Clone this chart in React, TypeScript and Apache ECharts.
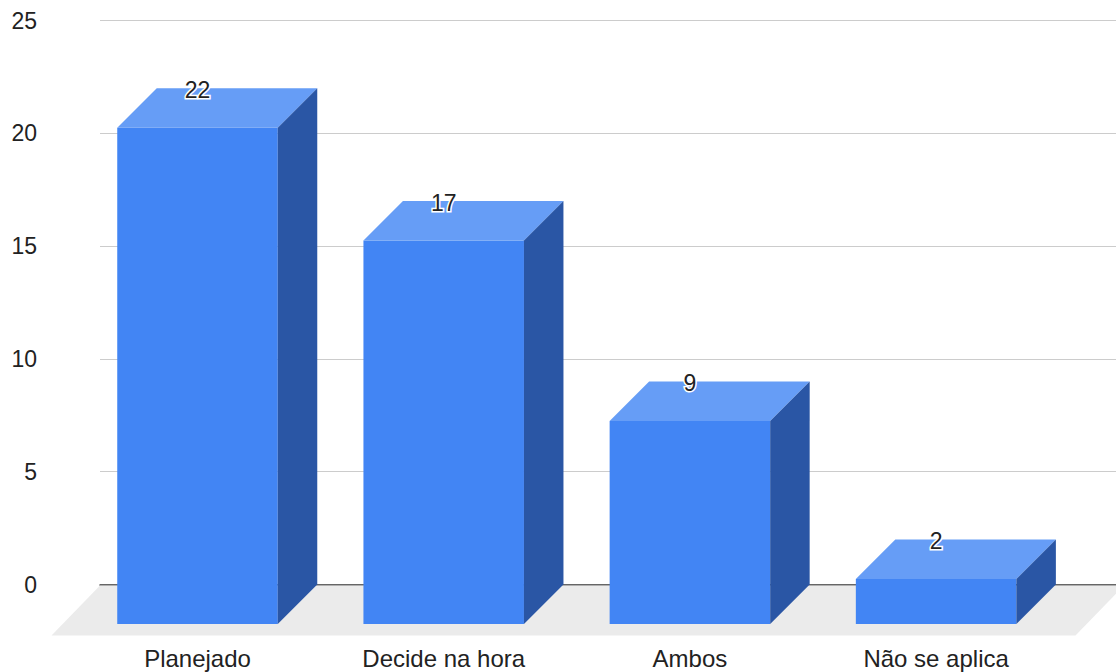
import React, { useEffect, useRef } from "react";
import * as echarts from "echarts";

const categories = ["Planejado", "Decide na hora", "Ambos", "Não se aplica"];
const values = [22, 17, 9, 2];
const yTicks = { min: 0, max: 25, interval: 5 };

const FONT = "'Liberation Sans', Arial, sans-serif";
const DEPTH = 39.5;

export default function App() {
  const ref = useRef<HTMLDivElement>(null);
  useEffect(() => {
    if (!ref.current) return;
    const chart = echarts.init(ref.current, undefined, { renderer: "svg" });
    const option: any = {
      animation: false,
      backgroundColor: "#ffffff",
      grid: [
        { left: 100, right: 0, top: 20.5, bottom: 87.5 },
        { left: 74.4, right: 56.8, top: 20.5, bottom: 87.5 },
      ],
      xAxis: [
        {
          type: "value",
          gridIndex: 0,
          min: 0,
          max: 1,
          axisLine: { show: true, onZero: false, lineStyle: { color: "#444", width: 1.5 } },
          axisTick: { show: false },
          axisLabel: { show: false },
          splitLine: { show: false },
        },
        {
          type: "category",
          gridIndex: 1,
          data: categories,
          axisLine: { show: false },
          axisTick: { show: false },
          axisLabel: {
            fontSize: 24,
            color: "#222",
            fontFamily: FONT,
            margin: 62,
            interval: 0,
          },
        },
      ],
      yAxis: [
        {
          type: "value",
          gridIndex: 0,
          min: yTicks.min,
          max: yTicks.max,
          interval: yTicks.interval,
          axisLine: { show: false },
          axisTick: { show: false },
          axisLabel: { fontSize: 23, color: "#222", fontFamily: FONT, margin: 63 },
          splitLine: { lineStyle: { color: "#cccccc", width: 1 } },
        },
        {
          type: "value",
          gridIndex: 1,
          min: yTicks.min,
          max: yTicks.max,
          interval: yTicks.interval,
          show: false,
        },
      ],
      series: [
        {
          type: "custom",
          xAxisIndex: 0,
          yAxisIndex: 0,
          silent: true,
          z: 1,
          data: [[0, 0]],
          renderItem: (params: any, api: any) => {
            const cs = params.coordSys;
            const by = api.coord([0, 0])[1] + 1;
            const fy = by + 50;
            const dx = 48.5;
            const xr = cs.x + cs.width + 8;
            return {
              type: "polygon",
              shape: {
                points: [
                  [cs.x, by],
                  [xr, by],
                  [xr - dx, fy],
                  [cs.x - dx, fy],
                ],
              },
              style: { fill: "#ebebeb" },
            };
          },
        },
        {
          type: "custom",
          xAxisIndex: 1,
          yAxisIndex: 1,
          z: 3,
          data: values.map((v, i) => [i, v]),
          encode: { x: 0, y: 1 },
          renderItem: (params: any, api: any) => {
            const i = api.value(0);
            const v = api.value(1);
            const top = api.coord([i, v]);
            const base = api.coord([i, 0]);
            const bw = api.size([1, 0])[0] * 0.652;
            const d = DEPTH;
            const xl = top[0] - bw / 2;
            const xr = top[0] + bw / 2;
            const fy = top[1] + d;
            const fb = base[1] + d;
            return {
              type: "group",
              children: [
                {
                  type: "polygon",
                  shape: { points: [[xl, fy], [xr, fy], [xr, fb], [xl, fb]] },
                  style: { fill: "#4285f4" },
                },
                {
                  type: "polygon",
                  shape: { points: [[xl, fy], [xl + d, top[1]], [xr + d, top[1]], [xr, fy]] },
                  style: { fill: "#669df6" },
                },
                {
                  type: "polygon",
                  shape: { points: [[xr, fy], [xr + d, top[1]], [xr + d, base[1]], [xr, fb]] },
                  style: { fill: "#2a56a5" },
                },
                {
                  type: "text",
                  x: top[0],
                  y: top[1] + 2,
                  style: {
                    text: String(v),
                    fontSize: 23,
                    fontFamily: FONT,
                    fill: "#222",
                    stroke: "#ffffff",
                    lineWidth: 3,
                    align: "center",
                    verticalAlign: "middle",
                  },
                },
              ],
            };
          },
        },
      ],
    };
    chart.setOption(option);
    return () => chart.dispose();
  }, []);
  return (
    <div
      ref={ref}
      style={{ position: "fixed", left: 0, top: 0, width: 1116, height: 672 }}
    />
  );
}
